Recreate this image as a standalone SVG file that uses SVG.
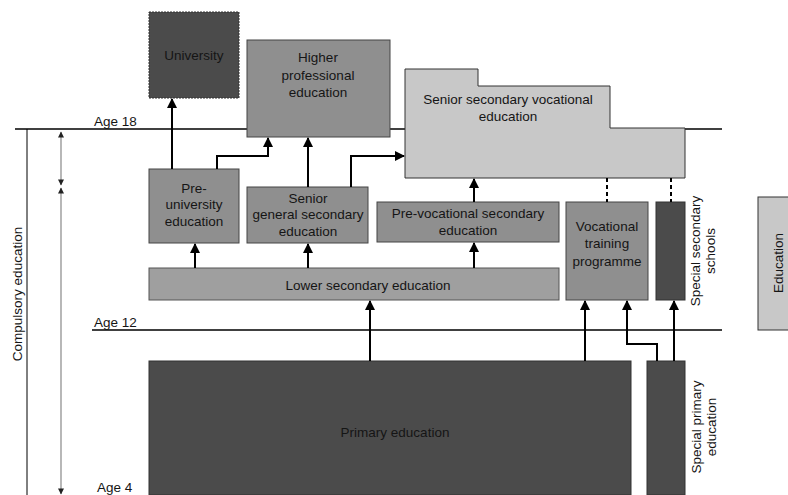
<svg xmlns="http://www.w3.org/2000/svg" width="788" height="495" viewBox="0 0 788 495">
<defs>
<marker id="ah" viewBox="0 0 10 10" refX="9" refY="5" markerWidth="5" markerHeight="5" orient="auto" markerUnits="strokeWidth"><path d="M0,0 L10,5 L0,10 z" fill="#000"/></marker>
<marker id="sa" viewBox="0 0 10 10" refX="9" refY="5" markerWidth="7" markerHeight="6" orient="auto-start-reverse" markerUnits="userSpaceOnUse"><path d="M0,0 L10,5 L0,10 z" fill="#222"/></marker>
</defs>
<style>
text{font-family:"Liberation Sans",Arial,sans-serif;font-size:13.5px;fill:#151515;text-anchor:middle}
.lab{text-anchor:start}
.dark{fill:#4b4b4b;stroke:#333;stroke-width:1}
.mid{fill:#8f8f8f;stroke:#444;stroke-width:1}
.low{fill:#9f9f9f;stroke:#555;stroke-width:1}
.light{fill:#c8c8c8;stroke:#333;stroke-width:1}
.ln{stroke:#000;stroke-width:1.3;fill:none}
.c{stroke:#000;stroke-width:2;fill:none;marker-end:url(#ah)}
.d{stroke:#000;stroke-width:2;fill:none;stroke-dasharray:4,3}
.dim{stroke:#888;stroke-width:1.2;fill:none;marker-start:url(#sa);marker-end:url(#sa)}
</style>
<rect width="788" height="495" fill="#fff"/>
<g id="axes">
<line class="ln" x1="15" y1="129" x2="722" y2="129"/>
<line class="ln" x1="92" y1="330" x2="722" y2="330"/>
<line x1="27" y1="129" x2="27" y2="495" stroke="#000" stroke-width="1"/>
<line class="dim" x1="61" y1="132" x2="61" y2="185"/>
<line class="dim" x1="61" y1="188" x2="61" y2="494"/>
<text class="lab" x="94" y="126">Age 18</text>
<text class="lab" x="94" y="327">Age 12</text>
<text class="lab" x="97" y="492">Age 4</text>
<text transform="translate(22,294) rotate(-90)">Compulsory education</text>
</g>
<g id="university"><rect class="dark" x="149" y="12" width="90" height="86" stroke-dasharray="2,1"/><text x="194" y="60">University</text></g>
<g id="higher"><rect class="mid" x="247" y="40" width="143" height="97"/><text x="318" y="62">Higher</text><text x="318" y="80">professional</text><text x="318" y="97">education</text></g>
<g id="ssve"><path class="light" d="M405,69 H478 V86 H610 V128 H685 V178 H405 Z"/><text x="508" y="104">Senior secondary vocational</text><text x="508" y="121">education</text></g>
<g id="preuniv"><rect class="mid" x="149" y="169" width="90" height="74"/><text x="194" y="193">Pre-</text><text x="194" y="209">university</text><text x="194" y="226">education</text></g>
<g id="seniorgen"><rect class="mid" x="247" y="187" width="121" height="56"/><text x="308" y="203">Senior</text><text x="308" y="219">general secondary</text><text x="308" y="236">education</text></g>
<g id="prevoc"><rect class="mid" x="377" y="202" width="182" height="40"/><text x="468" y="218">Pre-vocational secondary</text><text x="468" y="235">education</text></g>
<g id="voctrain"><rect class="mid" x="566" y="202" width="82" height="98"/><text x="607" y="231">Vocational</text><text x="607" y="248">training</text><text x="607" y="266">programme</text></g>
<g id="specsec"><rect class="dark" x="656" y="202" width="29" height="98"/><text transform="translate(700,251) rotate(-90)">Special secondary</text><text transform="translate(715,251) rotate(-90)">schools</text></g>
<g id="lowersec"><rect class="low" x="149" y="268" width="410" height="32"/><text x="368" y="290">Lower secondary education</text></g>
<g id="primary"><rect class="dark" x="149" y="361" width="482" height="134"/><text x="395" y="437">Primary education</text></g>
<g id="specprim"><rect class="dark" x="647" y="361" width="38" height="134"/><text transform="translate(701,427) rotate(-90)">Special primary</text><text transform="translate(716,427) rotate(-90)">education</text></g>
<g id="legend"><rect class="light" x="758" y="197" width="40" height="133"/><text transform="translate(783,263) rotate(-90)">Education</text></g>
<g id="connectors">
<path class="c" d="M172,169 V99"/>
<path class="c" d="M217,169 V156 H268 V138"/>
<path class="c" d="M308,187 V138"/>
<path class="c" d="M351,187 V156 H404"/>
<path class="c" d="M474,202 V179"/>
<path class="d" d="M607,178 V202"/>
<path class="d" d="M671,178 V202"/>
<path class="c" d="M195,268 V244"/>
<path class="c" d="M308,268 V244"/>
<path class="c" d="M474,268 V243"/>
<path class="c" d="M370,361 V301"/>
<path class="c" d="M585,361 V301"/>
<path class="c" d="M657,361 V344 H627 V301"/>
<path class="c" d="M674,361 V301"/>
</g>
</svg>
